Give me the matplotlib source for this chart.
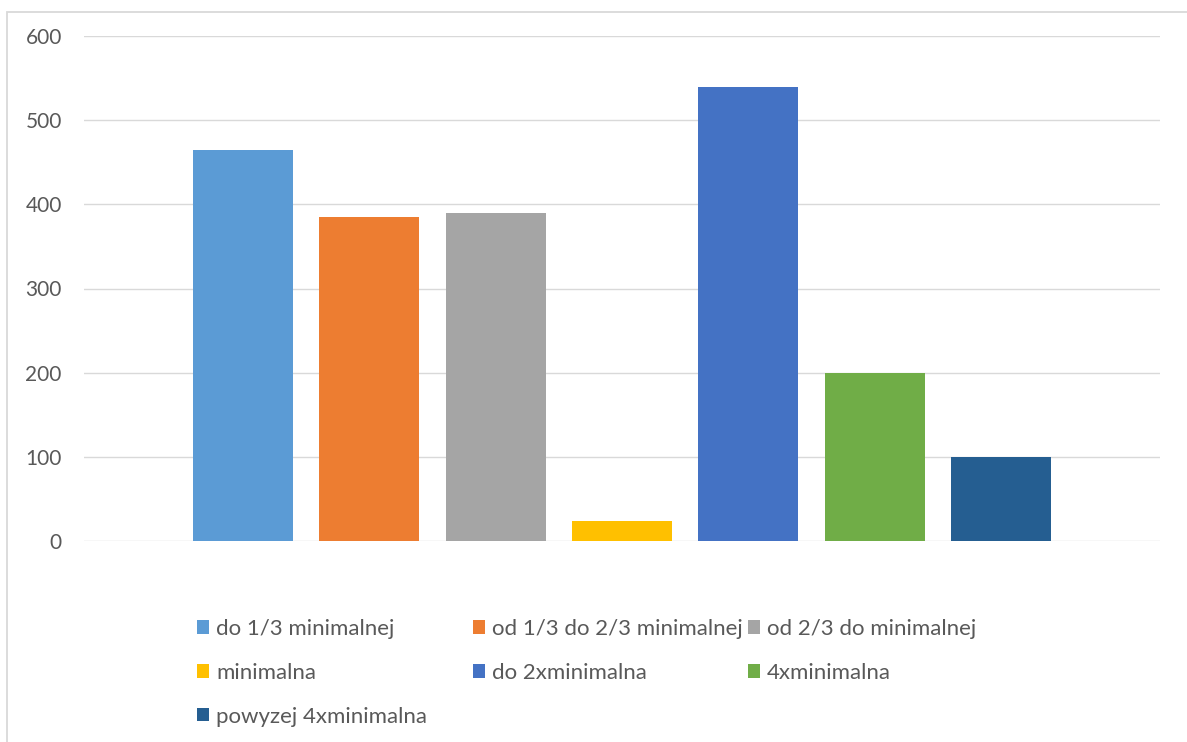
import matplotlib.pyplot as plt
from matplotlib.patches import Rectangle
import numpy as np

plt.rcParams['font.family'] = ['Lato', 'DejaVu Sans']

labels = ['do 1/3 minimalnej', 'od 1/3 do 2/3 minimalnej', 'od 2/3 do minimalnej',
          'minimalna', 'do 2xminimalna', '4xminimalna', 'powyzej 4xminimalna']
values = [465, 385, 390, 24, 540, 200, 100]
colors = ['#5B9BD5', '#ED7D31', '#A5A5A5', '#FFC000', '#4472C4', '#70AD47', '#255E91']
yticks = [0, 100, 200, 300, 400, 500, 600]

W, H = 1187, 742
fig = plt.figure(figsize=(W / 100, H / 100), dpi=100)

# chart frame (cut off at right and bottom like the screenshot)
fig.patches.append(Rectangle((7 / W, -0.05), 1.1, 1 - 12 / H + 0.05, transform=fig.transFigure,
                             fill=False, edgecolor='#d9d9d9', linewidth=1.3))

ax = fig.add_axes([84 / W, 1 - 541 / H, (1160 - 84) / W, (541 - 36) / H])
x = np.arange(len(values))
bars = ax.bar(x, values, width=100 / 126.3, color=colors, zorder=3)

ax.set_ylim(0, 600)
ax.set_xlim(-159 / 126.3, 6 + 159 / 126.3)
ax.set_yticks(yticks)
ax.set_xticks([])
ax.tick_params(axis='y', length=0, pad=16, labelsize=15, labelcolor='#595959')
ax.grid(axis='y', color='#d9d9d9', linewidth=1.0, zorder=0)
for s in ax.spines.values():
    s.set_visible(False)

# legend in rows of three, equal column widths like Excel
col_x = [197, 473, 748]
cols = [[0, 3, 6], [1, 4], [2, 5]]
for cx, idx in zip(col_x, cols):
    leg = fig.legend([bars[i] for i in idx], [labels[i] for i in idx],
                     loc='upper left', bbox_to_anchor=(cx / W, 1 - 619 / H),
                     frameon=False, fontsize=16, labelcolor='#595959',
                     handlelength=0.55, handleheight=0.55, handletextpad=0.3,
                     labelspacing=1.07, borderpad=0, borderaxespad=0)

fig.savefig('out.png', dpi=100)
